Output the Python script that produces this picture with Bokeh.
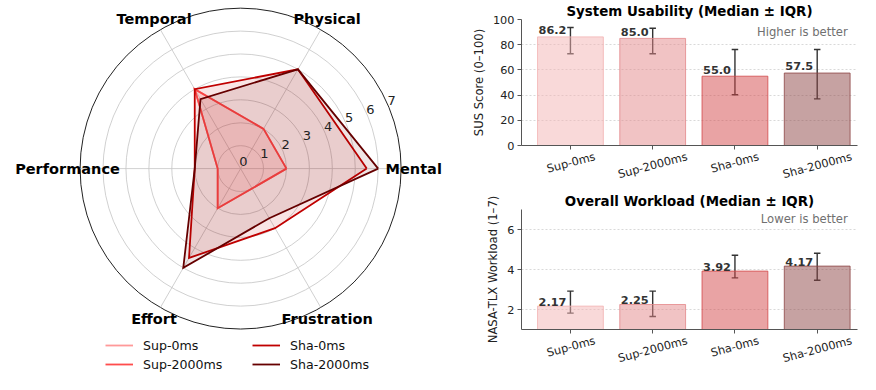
import math
from bokeh.plotting import figure
from bokeh.models import (Range1d, ColumnDataSource, Legend, LegendItem, FixedTicker,
                          Whisker, TeeHead, Label)
from bokeh.layouts import row, column
from bokeh.embed import file_html
from bokeh.resources import INLINE
from bokeh.core.properties import value

FONT = "DejaVu Sans"

# ---------------- data ----------------
dimensions = ["Mental", "Physical", "Temporal", "Performance", "Effort", "Frustration"]
conditions = ["Sup-0ms", "Sup-2000ms", "Sha-0ms", "Sha-2000ms"]
sup0_tlx = [2, 2, 4, 1, 2, 1]
sup2000_tlx = [2, 2, 4, 1, 2, 1]
sha0_tlx = [5.5, 5, 4, 2, 4.5, 3]
sha2000_tlx = [6, 5, 3.5, 2, 5, 2.5]
radial_ticks = [0, 1, 2, 3, 4, 5, 6, 7]

sus_median = [86.2, 85.0, 55.0, 57.5]
sus_q1 = [72.8, 72.8, 40.3, 37.0]
sus_q3 = [93.6, 93.0, 76.2, 76.2]
tlx_median = [2.17, 2.25, 3.92, 4.17]
tlx_q1 = [1.82, 1.65, 3.58, 3.46]
tlx_q3 = [2.92, 2.92, 4.71, 4.81]
sus_ticks = [0, 20, 40, 60, 80, 100]
tlx_ticks = [2, 4, 6]

# ---------------- styles ----------------
line_colors = ["#ff9999", "#ff4d4d", "#c00000", "#660000"]
bar_colors = ["#f3b3b3", "#e38789", "#d34749", "#8d4545"]
label_shift = [0.30, 0.42, 0.29, 0.42]   # centring of rotated tick labels

H = 374
WL = 468
CX, CY = 240.1, 168.1
PPU = 22.93
RMAX = 7

radar = figure(width=WL, height=H,
               x_range=Range1d(-CX / PPU, (WL - CX) / PPU),
               y_range=Range1d(-(H - CY) / PPU, CY / PPU),
               output_backend="svg", toolbar_location=None,
               x_axis_location=None, y_axis_location=None, min_border=0)
radar.outline_line_color = None
radar.grid.grid_line_color = None

n = len(dimensions)
angles = [2 * math.pi * k / n for k in range(n)]

rings = [r for r in radial_ticks if 0 < r < RMAX]
radar.circle(x=[0] * len(rings), y=[0] * len(rings), radius=rings,
             fill_color=None, line_color="#c4c4c4", line_width=0.8)
radar.circle(x=[0], y=[0], radius=[RMAX], fill_color=None,
             line_color="#222222", line_width=1.0)
radar.segment(x0=[0] * n, y0=[0] * n,
              x1=[RMAX * math.cos(a) for a in angles],
              y1=[RMAX * math.sin(a) for a in angles],
              line_color="#c4c4c4", line_width=0.8)

series = [sup0_tlx, sup2000_tlx, sha0_tlx, sha2000_tlx]
line_renderers = []
for vals, col in zip(series, line_colors):
    xs = [v * math.cos(a) for v, a in zip(vals, angles)]
    ys = [v * math.sin(a) for v, a in zip(vals, angles)]
    radar.patch(xs, ys, fill_color=col, fill_alpha=0.1, line_color=None)
    lr = radar.line(xs + xs[:1], ys + ys[:1], line_color=col, line_width=1.8,
                    line_join="miter")
    line_renderers.append(lr)

LAB_R = 7.55
radar.text(x=[LAB_R * math.cos(a) for a in angles],
           y=[LAB_R * math.sin(a) for a in angles],
           text=dimensions, text_font=value(FONT), text_font_style="bold",
           text_font_size="14.5px", text_align="center", text_baseline="middle",
           text_color="#000000")

ra = math.radians(22.5)
radar.text(x=[r * math.cos(ra) for r in radial_ticks],
           y=[r * math.sin(ra) for r in radial_ticks],
           text=[str(r) for r in radial_ticks], text_font=value(FONT),
           text_font_size="13px", text_align="center", text_baseline="middle",
           text_color="#222222", x_offset=2.7, y_offset=-6.8)


def make_legend(items, loc):
    return Legend(items=items, location=loc, label_text_font=FONT,
                  label_text_font_size="12.6px", label_text_color="#111111",
                  glyph_width=28, glyph_height=16, label_height=16,
                  label_standoff=10, spacing=3, padding=0, margin=0,
                  border_line_color=None, background_fill_alpha=0)


leg1 = make_legend([LegendItem(label=conditions[0], renderers=[line_renderers[0]]),
                    LegendItem(label=conditions[1], renderers=[line_renderers[1]])], (105, 2))
leg2 = make_legend([LegendItem(label=conditions[2], renderers=[line_renderers[2]]),
                    LegendItem(label=conditions[3], renderers=[line_renderers[3]])], (252, 2))
radar.add_layout(leg1)
radar.add_layout(leg2)


# ---------------- bar charts ----------------
WR = 860 - WL
XR = (-0.595, 3.49)


def bar_fig(height, yr, ticks, med, q1, q3, ylabel, title, note, note_y, fmt, lab_off):
    p = figure(width=WR, height=height, x_range=Range1d(*XR),
               y_range=Range1d(*yr), output_backend="svg", title=title,
               toolbar_location=None, min_border_left=52, min_border_right=3,
               min_border_top=0, min_border_bottom=0)
    p.outline_line_color = None
    p.title.text_font = FONT
    p.title.text_font_size = "13.4px"
    p.title.text_font_style = "bold"
    p.title.text_color = "#000000"
    p.title.align = "center"
    p.title.offset = 3
    p.title.standoff = 2

    xs = list(range(len(conditions)))
    src = ColumnDataSource(dict(x=xs, med=med, q1=q1, q3=q3, fc=bar_colors,
                                lab=[fmt.format(v) for v in med]))
    p.vbar(x="x", top="med", bottom=yr[0], width=0.8, source=src,
           fill_color="fc", fill_alpha=0.5, line_color="fc", line_alpha=0.8,
           line_width=1)
    p.add_layout(Whisker(source=src, base="x", upper="q3", lower="q1",
                         line_color="#333333", line_width=1.4,
                         upper_head=TeeHead(size=6.5, line_color="#333333", line_width=1.4),
                         lower_head=TeeHead(size=6.5, line_color="#333333", line_width=1.4)))
    p.text(x="x", y="med", text="lab", source=src, x_offset=-4, y_offset=-lab_off,
           text_align="right", text_baseline="alphabetic", text_font=value(FONT),
           text_font_style="bold", text_font_size="11.3px", text_color="#333333")

    p.add_layout(Label(x=3.371, y=note_y, text=note, text_align="right",
                       text_baseline="middle", text_font=FONT,
                       text_font_size="11.6px", text_color="#707070"))

    # axes
    lab_ticks = [i + s for i, s in zip(xs, label_shift)]
    p.xaxis.ticker = FixedTicker(ticks=lab_ticks, minor_ticks=xs)
    p.xaxis.major_label_overrides = {t: c for t, c in zip(lab_ticks, conditions)}
    p.xaxis.major_label_orientation = math.pi / 12
    p.xaxis.major_tick_line_color = None
    p.xaxis.major_tick_out = 0
    p.xaxis.major_tick_in = 0
    p.xaxis.minor_tick_line_color = "#555555"
    p.xaxis.minor_tick_out = 4
    p.xaxis.minor_tick_in = 0
    p.xaxis.major_label_standoff = 7
    p.yaxis.ticker = FixedTicker(ticks=ticks)
    p.yaxis.major_tick_out = 4
    p.yaxis.major_tick_in = 0
    p.yaxis.major_label_standoff = 3
    p.yaxis.axis_label = ylabel
    p.yaxis.axis_label_standoff = 4
    p.yaxis.axis_label_text_font = FONT
    p.yaxis.axis_label_text_font_size = "11.6px"
    p.yaxis.axis_label_text_font_style = "normal"
    p.yaxis.axis_label_text_color = "#222222"
    for ax in (p.xaxis, p.yaxis):
        ax.axis_line_color = "#555555"
        ax.major_label_text_font = FONT
        ax.major_label_text_font_size = "11.3px"
        ax.major_label_text_color = "#222222"
    p.yaxis.major_tick_line_color = "#555555"
    p.xgrid.visible = False
    p.ygrid.grid_line_color = "#cfcfcf"
    p.ygrid.grid_line_dash = "2 2"
    p.ygrid.grid_line_width = 0.8
    return p


TOP_H = 190
b1 = bar_fig(TOP_H, (0, 100), sus_ticks, sus_median, sus_q1, sus_q3,
             "SUS Score (0–100)", "System Usability (Median ± IQR)",
             "Higher is better", 90.3, "{:.1f}", 6.7)
b2 = bar_fig(H - TOP_H, (1, 7), tlx_ticks, tlx_median, tlx_q1, tlx_q3,
             "NASA-TLX Workload (1–7)", "Overall Workload (Median ± IQR)",
             "Lower is better", 6.52, "{:.2f}", 4.3)

layout = row(radar, column(b1, b2))
open("out.html", "w").write(file_html(layout, INLINE))
